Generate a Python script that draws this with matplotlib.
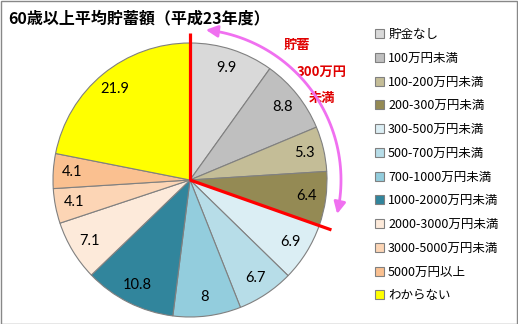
import numpy as np
import matplotlib.pyplot as plt
from matplotlib.patches import FancyArrowPatch, Rectangle
from matplotlib.path import Path

plt.rcParams['font.family'] = ['Noto Sans CJK JP', 'DejaVu Sans']

categories = ['貯金なし', '100万円未満', '100-200万円未満', '200-300万円未満',
              '300-500万円未満', '500-700万円未満', '700-1000万円未満',
              '1000-2000万円未満', '2000-3000万円未満', '3000-5000万円未満',
              '5000万円以上', 'わからない']
shares = [9.9, 8.8, 5.3, 6.4, 6.9, 6.7, 8, 10.8, 7.1, 4.1, 4.1, 21.9]
colors = ['#D9D9D9', '#BFBFBF', '#C4BD97', '#948A54', '#DBEEF4', '#B7DDE8',
          '#93CDDD', '#31859C', '#FDEADA', '#FCD5B5', '#FAC090', '#FFFF00']
under_300 = 4  # first four groups are below 3,000,000 yen

W, H = 518, 324
fig = plt.figure(figsize=(W / 100, H / 100), dpi=100)
ax = fig.add_axes([0, 0, 1, 1])

cx, cy, r = 190, 144, 137
wedges, texts = ax.pie(shares, colors=colors, startangle=90, counterclock=False,
                       center=(cx, cy), radius=r, labels=[f'{v:g}' for v in shares],
                       labeldistance=0.86, frame=True,
                       wedgeprops=dict(edgecolor='#808080', linewidth=0.8),
                       textprops=dict(fontsize=10.5, family=['Lato', 'DejaVu Sans']))
for t in texts:
    t.set_horizontalalignment('center')
    t.set_verticalalignment('center')
ax.set_xlim(0, W)
ax.set_ylim(0, H)
ax.set_aspect('auto')
ax.axis('off')

# red boundary lines around the under-3M group
end_ang = np.deg2rad(90 - sum(shares[:under_300]) * 3.6)
ax.plot([cx, cx], [cy, cy + 147], color='red', lw=2.3, solid_capstyle='butt', zorder=5)
ax.plot([cx, cx + 150 * np.cos(end_ang)], [cy, cy + 150 * np.sin(end_ang)],
        color='red', lw=2.3, solid_capstyle='butt', zorder=5)

# pink double arrow along the outside of the group
angs = np.deg2rad(np.linspace(84, -13, 60))
pts = np.column_stack([cx + 151 * np.cos(angs), cy + 151 * np.sin(angs)])
arc = FancyArrowPatch(path=Path(pts), arrowstyle='<|-|>,head_length=7,head_width=3.5',
                      color='#F070F0', lw=2, zorder=4)
ax.add_patch(arc)

for txt, x, y in [('貯蓄', 297, 279), ('300万円', 322, 252), ('未満', 322, 226)]:
    ax.text(x, y, txt, color='#E00000', fontsize=9.5, fontweight='bold',
            ha='center', va='center')

ax.text(8, 306, '60歳以上平均貯蓄額（平成23年度）', fontsize=11.5, fontweight='bold',
        ha='left', va='center')

leg = ax.legend(wedges, categories, loc='upper left', bbox_to_anchor=(370 / W, 1 - 23 / H),
                frameon=False, fontsize=9, handlelength=0.75, handleheight=0.75,
                handletextpad=0.3, labelspacing=0.86, borderaxespad=0)

fig.patches.append(Rectangle((0.5 / W, 0.5 / H), 1 - 1.5 / W, 1 - 1.5 / H,
                             transform=fig.transFigure, fill=False,
                             edgecolor='#888888', lw=1))

fig.savefig('out.png', dpi=100)
